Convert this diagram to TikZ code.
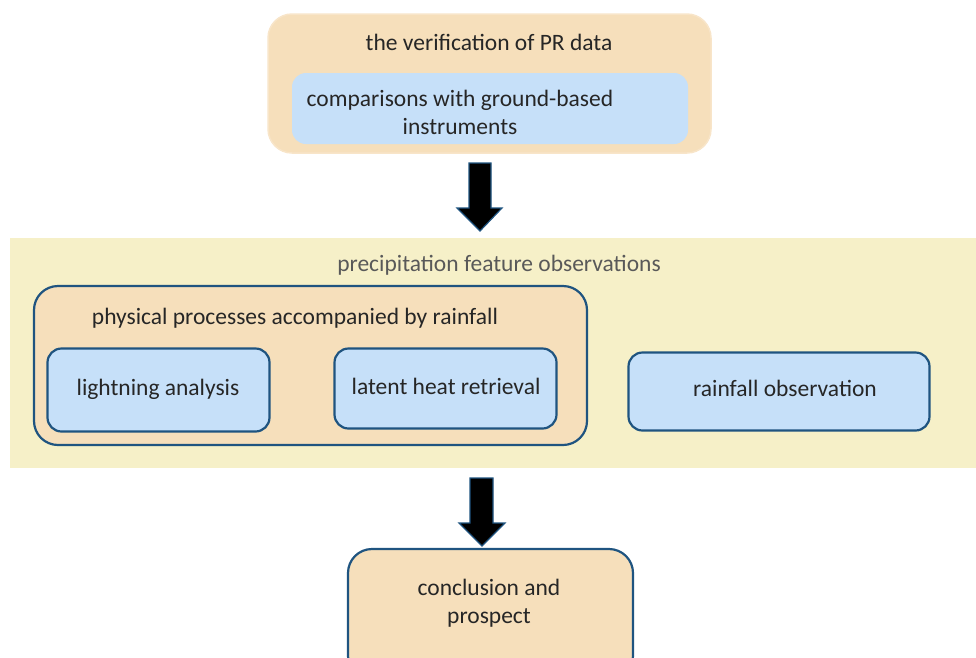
\documentclass[tikz,border=0pt]{standalone}
\usepackage{fontspec}
\setmainfont{Carlito}
\begin{document}
\begin{tikzpicture}[x=1pt,y=-1pt,
  txt/.style={font=\fontsize{23.5}{28}\selectfont, text=black!85, inner sep=0pt, align=center},
  tanbox/.style={fill=tanc, rounded corners=24pt},
  bluebox/.style={fill=bluec, draw=borderc, line width=2.2pt, rounded corners=14pt},
  blockarrow/.style={fill=black, draw=borderc, line width=1.2pt, line join=miter}
]
\definecolor{tanc}{RGB}{246,223,187}
\definecolor{bluec}{RGB}{198,224,249}
\definecolor{bandc}{RGB}{246,240,200}
\definecolor{borderc}{RGB}{31,84,128}
\useasboundingbox (0,0) rectangle (976,657);
% top group
\path[tanbox, draw=tanc!80!white, line width=1.5pt] (268,14) rectangle (711,153);
\node[txt] (ver) at (489,42) {the verification of PR data};
\path[fill=bluec, rounded corners=14pt] (292,73) rectangle (688,144);
\node[txt] (cmp) at (460,112) {comparisons with ground-based\\instruments};
% arrow 1
\path[blockarrow] (469,163) -- (491,163) -- (491,208) -- (502,208) -- (480,231) -- (457,208) -- (469,208) -- cycle;
% band
\path[fill=bandc] (10,238) rectangle (976,468);
\node[txt, text=black!65] (pfo) at (499,265) {precipitation feature observations};
% physical processes box
\path[fill=tanc, draw=borderc, line width=2.2pt, rounded corners=24pt] (34,286) rectangle (587,445);
\node[txt] (ppr) at (295,318) {physical processes accompanied by rainfall};
\node[bluebox, minimum width=222pt, minimum height=83pt] (lig) at (158.5,390) {};
\node[txt] at (158,389) {lightning analysis};
\node[bluebox, minimum width=222pt, minimum height=80pt] (lat) at (445.5,388.5) {};
\node[txt] at (446,386) {latent heat retrieval};
\node[bluebox, minimum width=301pt, minimum height=78pt] (rain) at (779,391.5) {};
\node[txt] at (785,388) {rainfall observation};
% arrow 2
\path[blockarrow] (470,478) -- (493,478) -- (493,523) -- (505,523) -- (482,546) -- (459,523) -- (470,523) -- cycle;
% conclusion
\path[fill=tanc, draw=borderc, line width=2.2pt, rounded corners=24pt] (348,549) rectangle (633,680);
\node[txt] (con) at (489,603) {conclusion and\\prospect};
\end{tikzpicture}
\end{document}
